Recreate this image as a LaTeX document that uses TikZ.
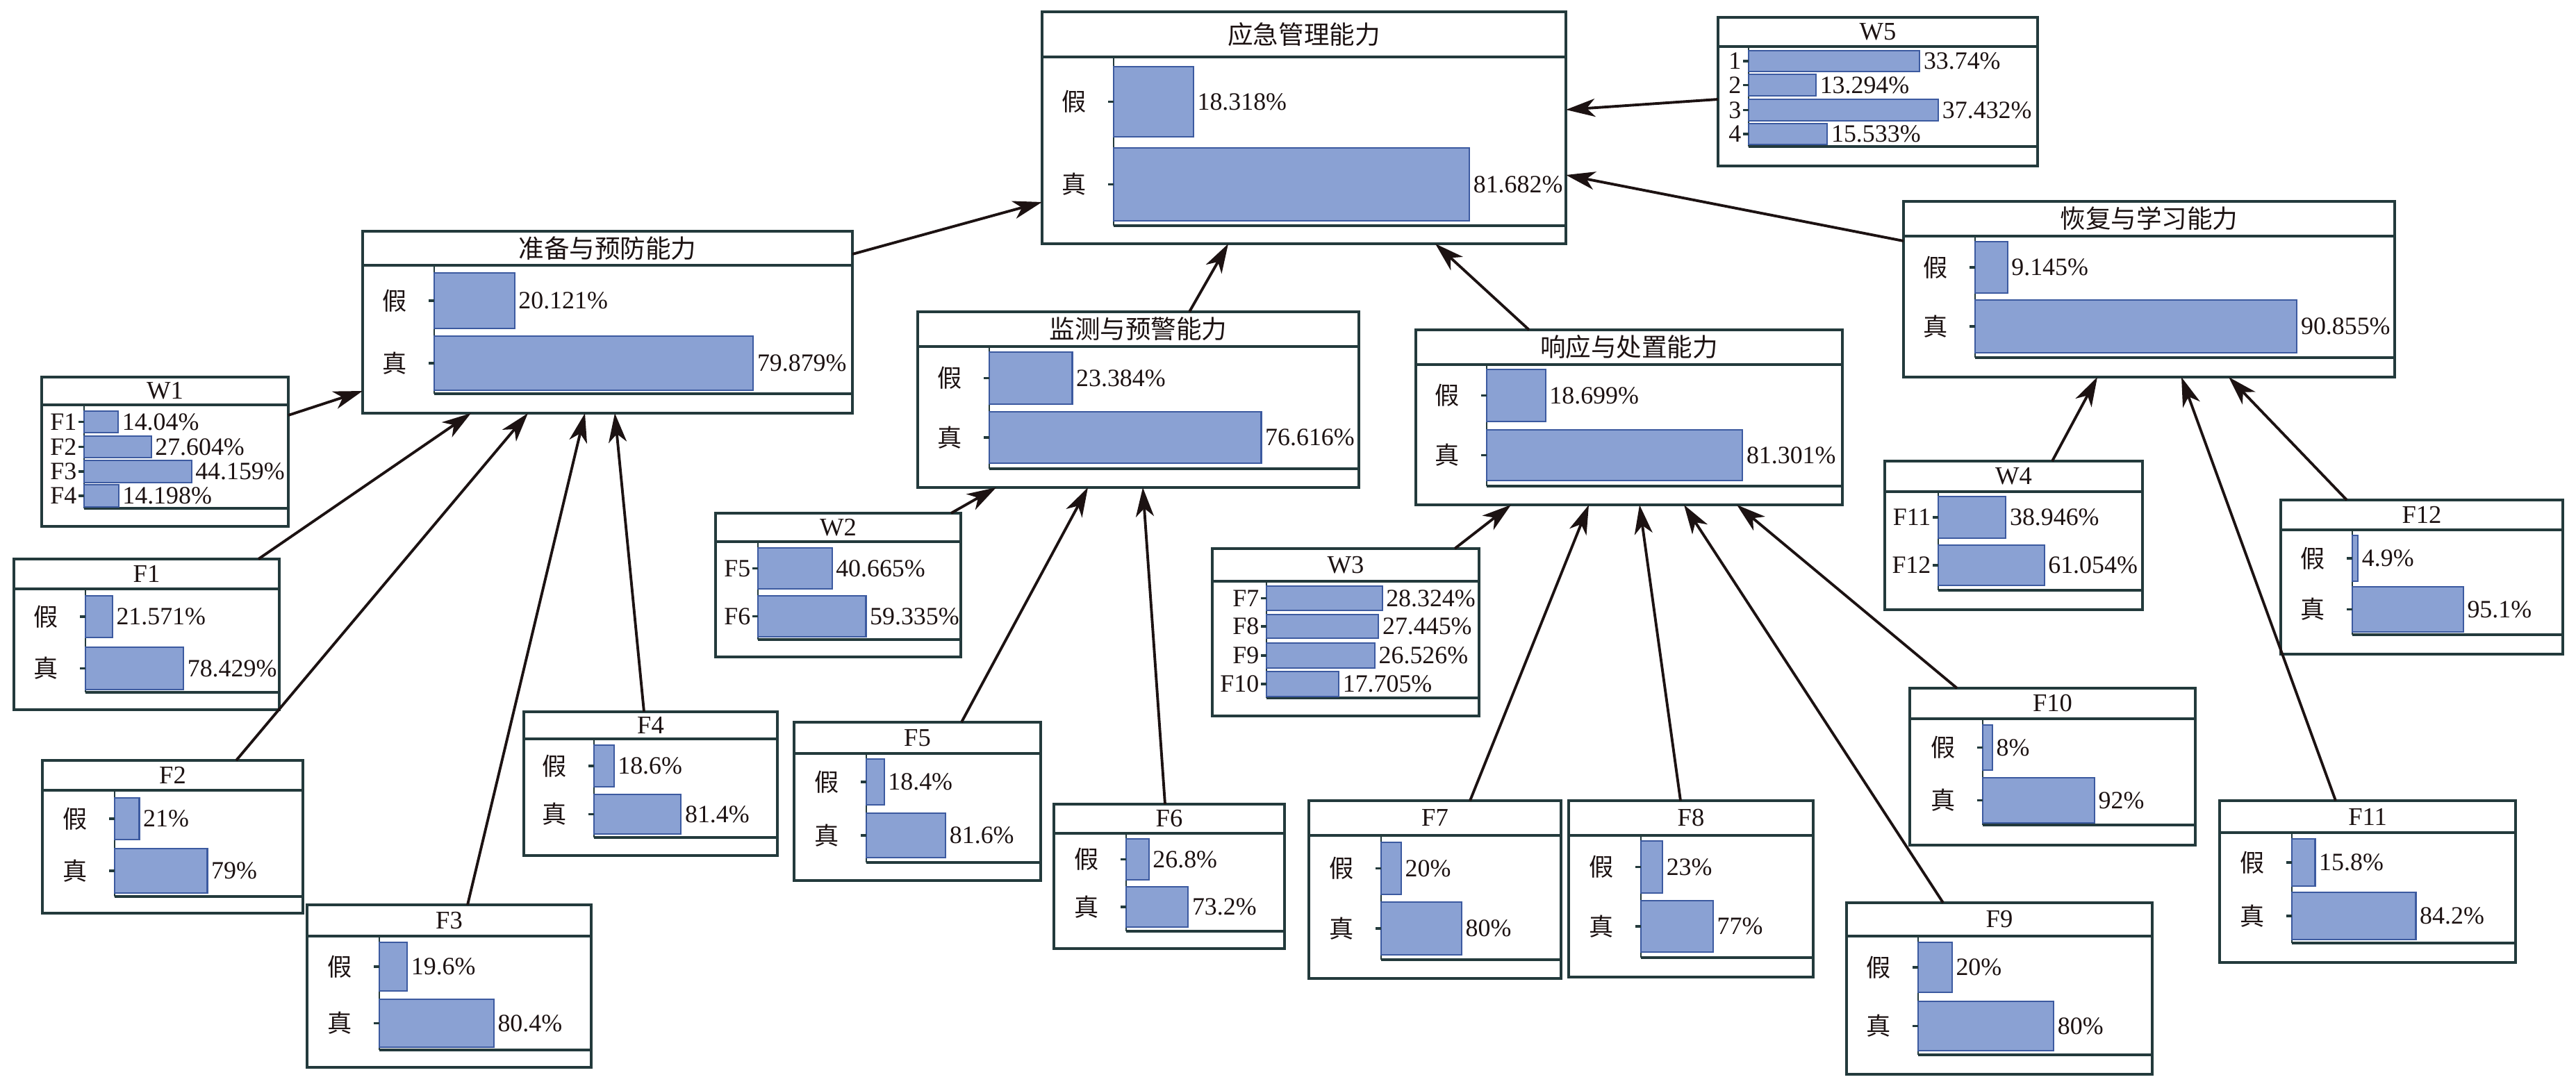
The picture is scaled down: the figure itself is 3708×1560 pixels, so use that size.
\documentclass[tikz,border=0pt]{standalone}
\usepackage{fontspec}
\setmainfont{Liberation Serif}
\newfontfamily\cjk{Noto Sans CJK SC}
\usetikzlibrary{arrows.meta,calc,fit}
\definecolor{edge}{HTML}{233A3C}
\definecolor{barfill}{HTML}{8AA1D3}
\definecolor{baredge}{HTML}{3C5AA0}
\definecolor{ink}{HTML}{1C1212}
\tikzset{
  netbox/.style={draw=edge, line width=0.9pt, inner sep=0pt, outer sep=0pt, fill=white},
  sepline/.style={draw=edge, line width=0.9pt},
  axisline/.style={draw=edge, line width=0.6pt},
  baseln/.style={draw=edge, line width=0.9pt},
  barrect/.style={fill=barfill, draw=baredge, line width=0.6pt},
  tickline/.style={draw=edge, line width=0.9pt},
  pct/.style={font=\fontsize{10.2}{12}\selectfont, inner sep=0pt, anchor=west, text=ink},
  ttl/.style={font=\fontsize{10.4}{12}\selectfont, inner sep=0pt, text=ink},
  cjklab/.style={font=\cjk\fontsize{10}{12}\selectfont, inner sep=0pt, text=ink},
  wlab/.style={font=\fontsize{10.2}{12}\selectfont, inner sep=0pt, anchor=east, text=ink},
  link/.style={draw=ink, line width=1.1pt, -{Stealth[length=0.42cm,width=0.26cm,inset=0.12cm]}},
}
% box: name, left, top, right, bottom, sep, axis x, axis bottom, title
\newcommand\bnBox[9]{%
  \coordinate (#1-nw) at (#2,#3);
  \coordinate (#1-se) at (#4,#5);
  \node[netbox, fit=(#1-nw)(#1-se)] (#1) {};
  \draw[sepline] (#2,#6) -- (#4,#6);
  \node[ttl] (#1-title) at ({(#2+#4)/2},{(#3+#6)/2}) {#9};
  \draw[axisline] (#7,#6) -- (#7,#8);
  \draw[baseln] (#7,#8) -- (#4,#8);
}
% two-state bar: axis x, y1, y2, scale(px per 100), value, label, name
\newcommand\bnTF[7]{%
  \draw[barrect] (#1,#2) rectangle ({#1+#4/100*#5},#3);
  \draw[tickline] ({#1-8},{(#2+#3)/2}) -- (#1,{(#2+#3)/2});
  \node[pct] (#7-pct) at ({#1+#4/100*#5+5},{(#2+#3)/2}) {#5\%};
  \node[cjklab] (#7-lab) at ({#1-57},{(#2+#3)/2}) {#6};
}
\newcommand\bnW[7]{%
  \draw[barrect] (#1,#2) rectangle ({#1+#4/100*#5},#3);
  \draw[tickline] ({#1-8},{(#2+#3)/2}) -- (#1,{(#2+#3)/2});
  \node[pct] (#7-pct) at ({#1+#4/100*#5+5},{(#2+#3)/2}) {#5\%};
  \node[wlab] (#7-lab) at ({#1-10},{(#2+#3)/2}) {#6};
}
\begin{document}
\begin{tikzpicture}[x=0.01cm,y=-0.01cm]
\useasboundingbox[fill=white] (0,0) rectangle (3708,1560);

% main
\bnBox{M}{1500}{17}{2254}{351}{82}{1603}{325}{\cjk 应急管理能力}
\bnTF{1603}{96}{197}{627}{18.318}{假}{M-a}
\bnTF{1603}{213}{318}{627}{81.682}{真}{M-b}

% W5
\bnBox{W5}{2473}{25}{2933}{239}{67}{2517}{211}{W5}
\bnW{2517}{73}{103}{730}{33.74}{1}{W5-a}
\bnW{2517}{107}{138}{730}{13.294}{2}{W5-b}
\bnW{2517}{143}{174}{730}{37.432}{3}{W5-c}
\bnW{2517}{178}{208}{730}{15.533}{4}{W5-d}

% 准备与预防能力
\bnBox{ZB}{522}{333}{1227}{595}{382}{625}{567}{\cjk 准备与预防能力}
\bnTF{625}{393}{473}{575}{20.121}{假}{ZB-a}
\bnTF{625}{484}{562}{575}{79.879}{真}{ZB-b}

% 监测与预警能力
\bnBox{JC}{1321}{449}{1956}{702}{499}{1424}{675}{\cjk 监测与预警能力}
\bnTF{1424}{507}{582}{511}{23.384}{假}{JC-a}
\bnTF{1424}{593}{667}{511}{76.616}{真}{JC-b}

% 响应与处置能力
\bnBox{XY}{2038}{475}{2652}{727}{525}{2140}{700}{\cjk 响应与处置能力}
\bnTF{2140}{532}{607}{453}{18.699}{假}{XY-a}
\bnTF{2140}{619}{692}{453}{81.301}{真}{XY-b}

% 恢复与学习能力
\bnBox{HF}{2740}{290}{3447}{543}{340}{2843}{515}{\cjk 恢复与学习能力}
\bnTF{2843}{348}{422}{510}{9.145}{假}{HF-a}
\bnTF{2843}{432}{508}{510}{90.855}{真}{HF-b}

% W1
\bnBox{W1}{60}{543}{415}{758}{583}{121}{732}{W1}
\bnW{121}{592}{623}{350}{14.04}{F1}{W1-a}
\bnW{121}{628}{659}{350}{27.604}{F2}{W1-b}
\bnW{121}{663}{695}{350}{44.159}{F3}{W1-c}
\bnW{121}{698}{730}{350}{14.198}{F4}{W1-d}

% W2
\bnBox{W2}{1030}{739}{1383}{946}{780}{1091}{921}{W2}
\bnW{1091}{789}{848}{262}{40.665}{F5}{W2-a}
\bnW{1091}{858}{917}{262}{59.335}{F6}{W2-b}

% W3
\bnBox{W3}{1745}{790}{2129}{1031}{837}{1823}{1005}{W3}
\bnW{1823}{844}{879}{588}{28.324}{F7}{W3-a}
\bnW{1823}{885}{919}{588}{27.445}{F8}{W3-b}
\bnW{1823}{926}{962}{588}{26.526}{F9}{W3-c}
\bnW{1823}{967}{1003}{588}{17.705}{F10}{W3-d}

% W4
\bnBox{W4}{2713}{664}{3084}{878}{708}{2790}{850}{W4}
\bnW{2790}{715}{775}{250}{38.946}{F11}{W4-a}
\bnW{2790}{785}{843}{250}{61.054}{F12}{W4-b}

% F1..F12
\bnBox{F1}{20}{805}{402}{1022}{848}{123}{997}{F1}
\bnTF{123}{858}{918}{180}{21.571}{假}{F1-a}
\bnTF{123}{932}{993}{180}{78.429}{真}{F1-b}

\bnBox{F2}{61}{1095}{436}{1315}{1138}{165}{1291}{F2}
\bnTF{165}{1149}{1209}{169}{21}{假}{F2-a}
\bnTF{165}{1222}{1286}{169}{79}{真}{F2-b}

\bnBox{F3}{442}{1303}{851}{1537}{1348}{546}{1512}{F3}
\bnTF{546}{1357}{1427}{205}{19.6}{假}{F3-a}
\bnTF{546}{1439}{1508}{205}{80.4}{真}{F3-b}

\bnBox{F4}{754}{1025}{1119}{1232}{1064}{855}{1206}{F4}
\bnTF{855}{1073}{1133}{154}{18.6}{假}{F4-a}
\bnTF{855}{1144}{1201}{154}{81.4}{真}{F4-b}

\bnBox{F5}{1143}{1040}{1498}{1268}{1085}{1247}{1242}{F5}
\bnTF{1247}{1093}{1159}{140}{18.4}{假}{F5-a}
\bnTF{1247}{1171}{1235}{140}{81.6}{真}{F5-b}

\bnBox{F6}{1517}{1158}{1849}{1366}{1200}{1621}{1341}{F6}
\bnTF{1621}{1208}{1267}{122}{26.8}{假}{F6-a}
\bnTF{1621}{1277}{1335}{122}{73.2}{真}{F6-b}

\bnBox{F7}{1884}{1153}{2247}{1409}{1203}{1988}{1382}{F7}
\bnTF{1988}{1213}{1288}{145}{20}{假}{F7-a}
\bnTF{1988}{1299}{1375}{145}{80}{真}{F7-b}

\bnBox{F8}{2258}{1153}{2610}{1407}{1203}{2362}{1379}{F8}
\bnTF{2362}{1211}{1286}{135}{23}{假}{F8-a}
\bnTF{2362}{1297}{1371}{135}{77}{真}{F8-b}

\bnBox{F9}{2658}{1300}{3098}{1547}{1348}{2761}{1519}{F9}
\bnTF{2761}{1357}{1429}{244}{20}{假}{F9-a}
\bnTF{2761}{1442}{1513}{244}{80}{真}{F9-b}

\bnBox{F10}{2749}{991}{3160}{1217}{1035}{2854}{1188}{F10}
\bnTF{2854}{1044}{1109}{175}{8}{假}{F10-a}
\bnTF{2854}{1120}{1185}{175}{92}{真}{F10-b}

\bnBox{F11}{3195}{1153}{3621}{1386}{1199}{3299}{1358}{F11}
\bnTF{3299}{1208}{1276}{212}{15.8}{假}{F11-a}
\bnTF{3299}{1285}{1353}{212}{84.2}{真}{F11-b}

\bnBox{F12}{3283}{720}{3689}{942}{763}{3386}{914}{F12}
\bnTF{3386}{771}{837}{168}{4.9}{假}{F12-a}
\bnTF{3386}{845}{910}{168}{95.1}{真}{F12-b}

% connectors
\draw[link] ($(W5.north west)+(0,118)$) -- ($(M.north east)+(0,141)$);
\draw[link] ($(HF.north west)+(0,57)$) -- ($(M.north east)+(0,235)$);
\draw[link] ($(ZB.north east)+(0,33)$) -- ($(M.north west)+(0,274)$);
\draw[link] ($(JC.north west)+(391,0)$) -- ($(M.south west)+(268,0)$);
\draw[link] ($(XY.north west)+(163,0)$) -- ($(M.south west)+(566,0)$);

\draw[link] ($(W1.north east)+(0,55)$) -- ($(ZB.north west)+(0,230)$);
\draw[link] ($(F1.north west)+(352,0)$) -- ($(ZB.south west)+(156,0)$);
\draw[link] ($(F2.north west)+(279,0)$) -- ($(ZB.south west)+(238,0)$);
\draw[link] ($(F3.north west)+(231,0)$) -- ($(ZB.south west)+(320,0)$);
\draw[link] ($(F4.north west)+(173,0)$) -- ($(ZB.south west)+(363,0)$);

\draw[link] ($(W2.north west)+(339,0)$) -- ($(JC.south west)+(113,0)$);
\draw[link] ($(F5.north west)+(241,0)$) -- ($(JC.south west)+(245,0)$);
\draw[link] ($(F6.north west)+(160,0)$) -- ($(JC.south west)+(324,0)$);

\draw[link] ($(W3.north west)+(349,0)$) -- ($(XY.south west)+(137,0)$);
\draw[link] ($(F7.north west)+(232,0)$) -- ($(XY.south west)+(249,0)$);
\draw[link] ($(F8.north west)+(161,0)$) -- ($(XY.south west)+(322,0)$);
\draw[link] ($(F9.north west)+(139,0)$) -- ($(XY.south west)+(386,0)$);
\draw[link] ($(F10.north west)+(68,0)$) -- ($(XY.south west)+(462,0)$);

\draw[link] ($(W4.north west)+(241,0)$) -- ($(HF.south west)+(279,0)$);
\draw[link] ($(F11.north west)+(167,0)$) -- ($(HF.south west)+(400,0)$);
\draw[link] ($(F12.north west)+(95,0)$) -- ($(HF.south west)+(468,0)$);
\end{tikzpicture}
\end{document}
